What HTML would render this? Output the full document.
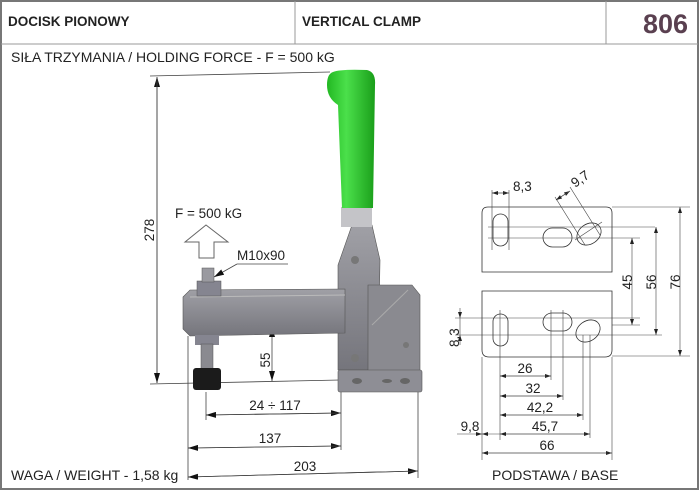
<!DOCTYPE html>
<html><head><meta charset="utf-8"><style>
body{margin:0;background:#fff}
svg{display:block;font-family:"Liberation Sans",sans-serif}
</style></head><body>
<svg width="700" height="492" viewBox="0 0 700 492">
<defs>
<marker id="a" markerWidth="10" markerHeight="6" refX="10" refY="3" orient="auto" markerUnits="userSpaceOnUse"><path d="M0,0 L10,3 L0,6z" fill="#111"/></marker>
<marker id="s" markerWidth="6" markerHeight="4" refX="6" refY="2" orient="auto" markerUnits="userSpaceOnUse"><path d="M0,0 L6,2 L0,4z" fill="#222"/></marker>
<linearGradient id="g" x1="0" x2="1"><stop offset="0" stop-color="#22b822"/><stop offset=".4" stop-color="#4be04b"/><stop offset="1" stop-color="#1a9e1a"/></linearGradient>
<linearGradient id="m" x1="0" x2="0" y1="0" y2="1"><stop offset="0" stop-color="#a0a0a6"/><stop offset="1" stop-color="#75757c"/></linearGradient>
</defs>
<rect x="1" y="1" width="697" height="488" fill="none" stroke="#777" stroke-width="2"/>
<line x1="1" y1="44" x2="698" y2="44" stroke="#999"/>
<line x1="295" y1="1" x2="295" y2="44" stroke="#999"/>
<line x1="606" y1="1" x2="606" y2="44" stroke="#999"/>
<text x="8" y="26" font-size="13.5" font-weight="bold" fill="#222">DOCISK PIONOWY</text>
<text x="302" y="26" font-size="13.5" font-weight="bold" fill="#222">VERTICAL CLAMP</text>
<text x="688" y="33" font-size="27" font-weight="bold" fill="#5a4050" text-anchor="end">806</text>
<text x="11" y="62" font-size="14" fill="#222">SIŁA TRZYMANIA / HOLDING FORCE - F = 500 kG</text>
<text x="11" y="480" font-size="14" fill="#222">WAGA / WEIGHT - 1,58 kg</text>
<text x="492" y="480" font-size="14" fill="#222">PODSTAWA / BASE</text>

<g stroke="#444" stroke-width="0.8" fill="none">
<line x1="150" y1="76" x2="330" y2="72"/>
<line x1="157" y1="383" x2="157" y2="77" marker-end="url(#a)"/>
<line x1="157" y1="80" x2="157" y2="383" marker-end="url(#a)"/>
<line x1="150" y1="384" x2="340" y2="380"/>
<line x1="272" y1="356" x2="272" y2="327" marker-end="url(#a)"/>
<line x1="272" y1="356" x2="272" y2="381" marker-end="url(#a)"/>
<line x1="188" y1="336" x2="188" y2="480"/>
<line x1="206" y1="392" x2="206" y2="420"/>
<line x1="341" y1="392" x2="341" y2="450"/>
<line x1="418" y1="392" x2="418" y2="478"/>
<line x1="206" y1="415" x2="341" y2="413" marker-end="url(#a)"/><line x1="341" y1="413" x2="206" y2="415" marker-end="url(#a)"/>
<line x1="188" y1="448" x2="341" y2="446" marker-end="url(#a)"/><line x1="341" y1="446" x2="188" y2="448" marker-end="url(#a)"/>
<line x1="188" y1="477" x2="418" y2="471" marker-end="url(#a)"/><line x1="418" y1="471" x2="188" y2="477" marker-end="url(#a)"/>
<line x1="237" y1="264" x2="288" y2="264"/>
<line x1="237" y1="264" x2="214" y2="277" marker-end="url(#a)"/>
</g>
<g font-size="13.5" fill="#222">
<text transform="translate(154,230) rotate(-90)" text-anchor="middle">278</text>
<text transform="translate(270,360) rotate(-90)" text-anchor="middle">55</text>
<text x="275" y="410" text-anchor="middle">24 ÷ 117</text>
<text x="270" y="443" text-anchor="middle">137</text>
<text x="305" y="471" text-anchor="middle">203</text>
<text x="237" y="260">M10x90</text>
<text x="175" y="218">F = 500 kG</text>
</g>
<path d="M199,258 L199,242 L185,242 L206,225 L228,242 L214,242 L214,258z" fill="#fff" stroke="#666"/>

<path d="M338,370 L338,265 L352,225 L372,225 L380,260 L378,370z" fill="url(#m)" stroke="#555" stroke-width=".6"/>
<path d="M368,285 L412,285 L420,295 L420,372 L368,372z" fill="#8a8a90" stroke="#555" stroke-width=".6"/>
<line x1="372" y1="325" x2="408" y2="290" stroke="#aaa"/>
<rect x="338" y="370" width="84" height="22" rx="2" fill="#8e8e95" stroke="#555" stroke-width=".6"/>
<ellipse cx="357" cy="381" rx="5" ry="3" fill="#666"/><ellipse cx="387" cy="381" rx="5" ry="2" fill="#666"/><ellipse cx="405" cy="381" rx="5" ry="3" fill="#666"/>
<path d="M183,297 L190,290 L345,289 L345,333 L190,336 L183,329z" fill="url(#m)" stroke="#555" stroke-width=".6"/>
<line x1="190" y1="297" x2="345" y2="295" stroke="#bbb"/>
<rect x="197" y="281" width="24" height="15" fill="#858590" stroke="#555" stroke-width=".5"/>
<rect x="202" y="268" width="12" height="14" fill="#9a9aa0" stroke="#555" stroke-width=".5"/>
<rect x="195" y="335" width="24" height="10" fill="#858590"/>
<rect x="201" y="344" width="12" height="26" fill="#8a8a90" stroke="#555" stroke-width=".5"/>
<rect x="193" y="368" width="28" height="22" rx="3" fill="#1b1b1b"/>
<circle cx="355" cy="260" r="4" fill="#777"/><circle cx="355" cy="358" r="4" fill="#777"/><circle cx="406" cy="345" r="3" fill="#777"/>
<rect x="341" y="207" width="31" height="20" fill="#c4c4c8"/>
<path d="M333,72 Q340,69 367,70 Q376,72 375,85 L373,208 L342,208 L338,105 Q327,98 327,85 Q327,74 333,72z" fill="url(#g)"/>

<g stroke="#333" stroke-width="0.8" fill="none">
<path d="M482,272 L482,213 Q482,207 488,207 L606,207 Q612,207 612,213 L612,272z"/>
<path d="M482,291 L612,291 L612,350 Q612,357 605,357 L489,357 Q482,357 482,350z"/>
<rect x="493" y="214" width="15" height="32" rx="7.5"/>
<rect x="543" y="228" width="29" height="19" rx="9.5"/>
<ellipse cx="589" cy="234" rx="13" ry="10" transform="rotate(-35 589 234)"/>
<rect x="493" y="314" width="15" height="32" rx="7.5"/>
<rect x="543" y="313" width="29" height="18" rx="9"/>
<ellipse cx="588" cy="331" rx="13" ry="10" transform="rotate(-35 588 331)"/>
</g>
<g stroke="#444" stroke-width="0.6" fill="none">
<line x1="488" y1="227" x2="655" y2="227"/><line x1="488" y1="238" x2="640" y2="238"/>
<line x1="492" y1="190" x2="492" y2="250"/><line x1="509" y1="190" x2="509" y2="250"/>
<line x1="492" y1="193" x2="509" y2="193" marker-end="url(#s)"/><line x1="509" y1="193" x2="492" y2="193" marker-end="url(#s)"/>
<line x1="555" y1="197" x2="585" y2="245"/><line x1="570" y1="187" x2="600" y2="235"/>
<line x1="556" y1="200" x2="570" y2="191" marker-end="url(#s)"/><line x1="570" y1="191" x2="556" y2="200" marker-end="url(#s)"/>
<line x1="575" y1="240" x2="602" y2="222"/>
<line x1="612" y1="207" x2="690" y2="207"/>
<line x1="455" y1="318" x2="640" y2="318"/><line x1="455" y1="335" x2="662" y2="335"/>
<line x1="612" y1="325" x2="640" y2="325"/><line x1="612" y1="356" x2="690" y2="356"/>
<line x1="632" y1="280" x2="632" y2="238" marker-end="url(#s)"/><line x1="632" y1="280" x2="632" y2="325" marker-end="url(#s)"/>
<line x1="656" y1="280" x2="656" y2="227" marker-end="url(#s)"/><line x1="656" y1="280" x2="656" y2="335" marker-end="url(#s)"/>
<line x1="680" y1="280" x2="680" y2="207" marker-end="url(#s)"/><line x1="680" y1="280" x2="680" y2="356" marker-end="url(#s)"/>
<line x1="460" y1="308" x2="460" y2="318" marker-end="url(#s)"/><line x1="460" y1="345" x2="460" y2="335" marker-end="url(#s)"/>
<line x1="460" y1="318" x2="460" y2="335"/>
<line x1="482" y1="357" x2="482" y2="460"/><line x1="612" y1="357" x2="612" y2="460"/>
<line x1="500" y1="310" x2="500" y2="440"/><line x1="551" y1="310" x2="551" y2="380"/><line x1="563" y1="310" x2="563" y2="400"/>
<line x1="583" y1="335" x2="583" y2="420"/><line x1="590" y1="335" x2="590" y2="438"/>
<line x1="500" y1="376" x2="551" y2="376" marker-end="url(#s)"/><line x1="551" y1="376" x2="500" y2="376" marker-end="url(#s)"/>
<line x1="500" y1="396" x2="563" y2="396" marker-end="url(#s)"/><line x1="563" y1="396" x2="500" y2="396" marker-end="url(#s)"/>
<line x1="500" y1="415" x2="583" y2="415" marker-end="url(#s)"/><line x1="583" y1="415" x2="500" y2="415" marker-end="url(#s)"/>
<line x1="500" y1="434" x2="590" y2="434" marker-end="url(#s)"/><line x1="590" y1="434" x2="500" y2="434" marker-end="url(#s)"/>
<line x1="457" y1="434" x2="482" y2="434" marker-end="url(#s)"/><line x1="500" y1="434" x2="482" y2="434" marker-end="url(#s)"/>
<line x1="482" y1="453" x2="612" y2="453" marker-end="url(#s)"/><line x1="612" y1="453" x2="482" y2="453" marker-end="url(#s)"/>
</g>
<g font-size="13.5" fill="#222">
<text x="513" y="191">8,3</text>
<text transform="translate(575,188) rotate(-35)">9,7</text>
<text transform="translate(632,282) rotate(-90)" text-anchor="middle">45</text>
<text transform="translate(656,282) rotate(-90)" text-anchor="middle">56</text>
<text transform="translate(680,282) rotate(-90)" text-anchor="middle">76</text>
<text transform="translate(459,347) rotate(-90)">8,3</text>
<text x="525" y="373" text-anchor="middle">26</text>
<text x="533" y="393" text-anchor="middle">32</text>
<text x="540" y="412" text-anchor="middle">42,2</text>
<text x="545" y="431" text-anchor="middle">45,7</text>
<text x="470" y="431" text-anchor="middle">9,8</text>
<text x="547" y="450" text-anchor="middle">66</text>
</g>
</svg>
</body></html>
